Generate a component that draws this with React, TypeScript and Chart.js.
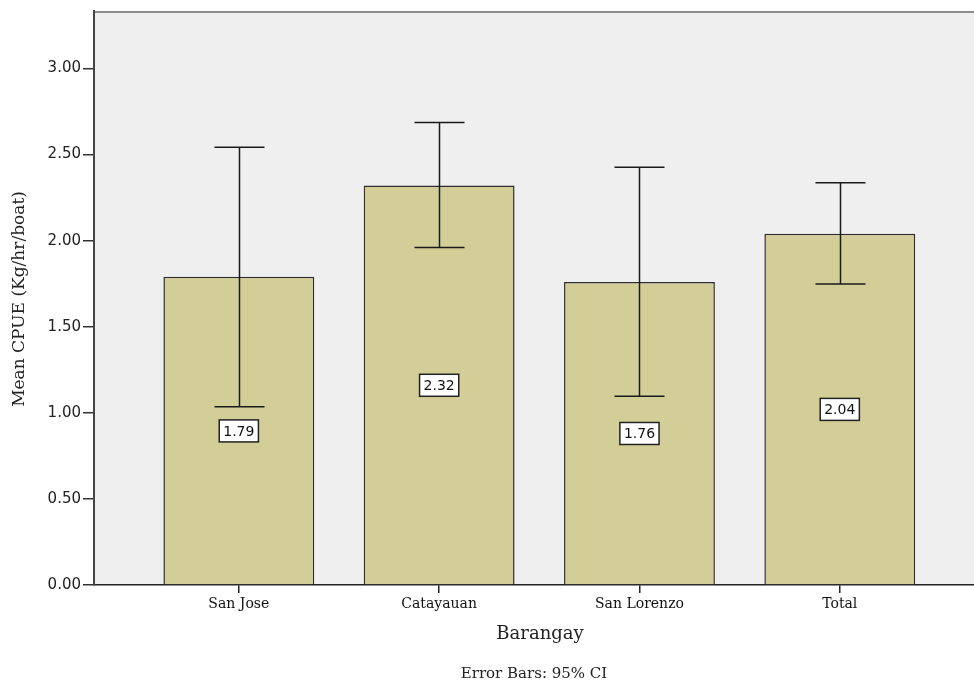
import React, { useEffect, useRef } from "react";
import { Chart, registerables } from "chart.js";

Chart.register(...registerables);

const categories = ["San Jose", "Catayauan", "San Lorenzo", "Total"];
const means = [1.79, 2.32, 1.76, 2.04];
const ciLower = [1.035, 1.96, 1.097, 1.748];
const ciUpper = [2.542, 2.687, 2.426, 2.337];
const yTicks = [0, 0.5, 1, 1.5, 2, 2.5, 3];
const yTitle = "Mean CPUE (Kg/hr/boat)";
const xTitle = "Barangay";
const footnote = "Error Bars: 95% CI";

const SERIF = "'DejaVu Serif', serif";
const SANS = "'DejaVu Sans', sans-serif";

const decorPlugin = {
  id: "decor",
  beforeDraw(chart: any) {
    const { ctx, chartArea } = chart;
    ctx.save();
    ctx.fillStyle = "#ffffff";
    ctx.fillRect(0, 0, chart.width, chart.height);
    ctx.fillStyle = "#efefef";
    ctx.fillRect(chartArea.left, chartArea.top, chartArea.right - chartArea.left, chartArea.bottom - chartArea.top);
    ctx.strokeStyle = "#8a8a8a";
    ctx.lineWidth = 2;
    ctx.beginPath();
    ctx.moveTo(chartArea.left, chartArea.top + 1);
    ctx.lineTo(chartArea.right, chartArea.top + 1);
    ctx.stroke();
    ctx.restore();
  },
  afterDatasetsDraw(chart: any) {
    const { ctx } = chart;
    const xs = chart.scales.x;
    const ys = chart.scales.y;
    ctx.save();
    // error bars
    ctx.strokeStyle = "#1a1a1a";
    ctx.lineWidth = 1.5;
    for (let i = 0; i < categories.length; i++) {
      const cx = Math.round(xs.getPixelForValue(i)) + 0.5;
      const yl = ys.getPixelForValue(ciLower[i]);
      const yu = ys.getPixelForValue(ciUpper[i]);
      ctx.beginPath();
      ctx.moveTo(cx, yl);
      ctx.lineTo(cx, yu);
      ctx.moveTo(cx - 25, yu);
      ctx.lineTo(cx + 25, yu);
      ctx.moveTo(cx - 25, yl);
      ctx.lineTo(cx + 25, yl);
      ctx.stroke();
    }
    // value labels
    ctx.font = `14px ${SANS}`;
    ctx.textAlign = "center";
    ctx.textBaseline = "middle";
    for (let i = 0; i < categories.length; i++) {
      const cx = xs.getPixelForValue(i);
      const cy = ys.getPixelForValue(means[i] / 2);
      const txt = means[i].toFixed(2);
      const w = ctx.measureText(txt).width + 8;
      const h = 22;
      ctx.fillStyle = "#ffffff";
      ctx.fillRect(cx - w / 2, cy - h / 2, w, h);
      ctx.strokeStyle = "#222";
      ctx.lineWidth = 1.5;
      ctx.strokeRect(cx - w / 2, cy - h / 2, w, h);
      ctx.fillStyle = "#111";
      ctx.fillText(txt, cx, cy + 1);
    }
    ctx.restore();
  },
  afterDraw(chart: any) {
    const { ctx } = chart;
    ctx.save();
    ctx.fillStyle = "#222";
    ctx.textAlign = "center";
    ctx.textBaseline = "middle";
    ctx.font = `18px ${SERIF}`;
    ctx.fillText(xTitle, 540, 634);
    ctx.font = `15px ${SERIF}`;
    ctx.fillText(footnote, 534, 674);
    ctx.translate(20, 299);
    ctx.rotate(-Math.PI / 2);
    ctx.font = `17px ${SERIF}`;
    ctx.fillText(yTitle, 0, 0);
    ctx.restore();
  },
};

export default function App() {
  const ref = useRef<HTMLCanvasElement>(null);
  useEffect(() => {
    const canvas = ref.current!;
    const chart = new Chart(canvas, {
      type: "bar",
      data: {
        datasets: [
          {
            data: categories.map((c, i) => ({ x: i, y: means[i] })),
            backgroundColor: "#d3ce98",
            borderColor: "#2e2e2e",
            borderWidth: 1.5,
            barPercentage: 0.753,
            categoryPercentage: 1,
          },
        ],
      },
      options: {
        responsive: false,
        animation: false,
        layout: { padding: { top: 10, left: 0, right: 0, bottom: 0 } },
        plugins: { legend: { display: false }, tooltip: { enabled: false } },
        scales: {
          x: {
            type: "linear",
            min: -0.723,
            max: 3.67,
            offset: false,
            grid: { offset: false, drawOnChartArea: false, drawTicks: true, tickLength: 8, color: "#222", lineWidth: 1.5 },
            border: { display: true, color: "#222", width: 1.5 },
            afterBuildTicks: (scale: any) => {
              scale.ticks = categories.map((c, i) => ({ value: i }));
            },
            afterFit: (scale: any) => {
              scale.height = 95;
            },
            ticks: {
              autoSkip: false,
              maxRotation: 0,
              padding: 3,
              color: "#111",
              font: { family: SERIF, size: 14 },
              callback: (v: any) => categories[v] ?? "",
            },
          },
          y: {
            min: 0,
            max: 3.334,
            grid: { drawOnChartArea: false, drawTicks: true, tickLength: 11, color: "#333", lineWidth: 1.5 },
            border: { display: true, color: "#444", width: 2 },
            afterBuildTicks: (scale: any) => {
              scale.ticks = yTicks.map((v) => ({ value: v }));
            },
            afterFit: (scale: any) => {
              scale.width = 94;
            },
            ticks: {
              padding: 2,
              color: "#222",
              font: { family: SANS, size: 15 },
              callback: (v: any) => Number(v).toFixed(2),
            },
          },
        },
      },
      plugins: [decorPlugin],
    } as any);
    return () => chart.destroy();
  }, []);
  return (
    <div style={{ position: "absolute", left: 0, top: 0, width: 974, height: 680 }}>
      <canvas ref={ref} width={974} height={680} />
    </div>
  );
}
